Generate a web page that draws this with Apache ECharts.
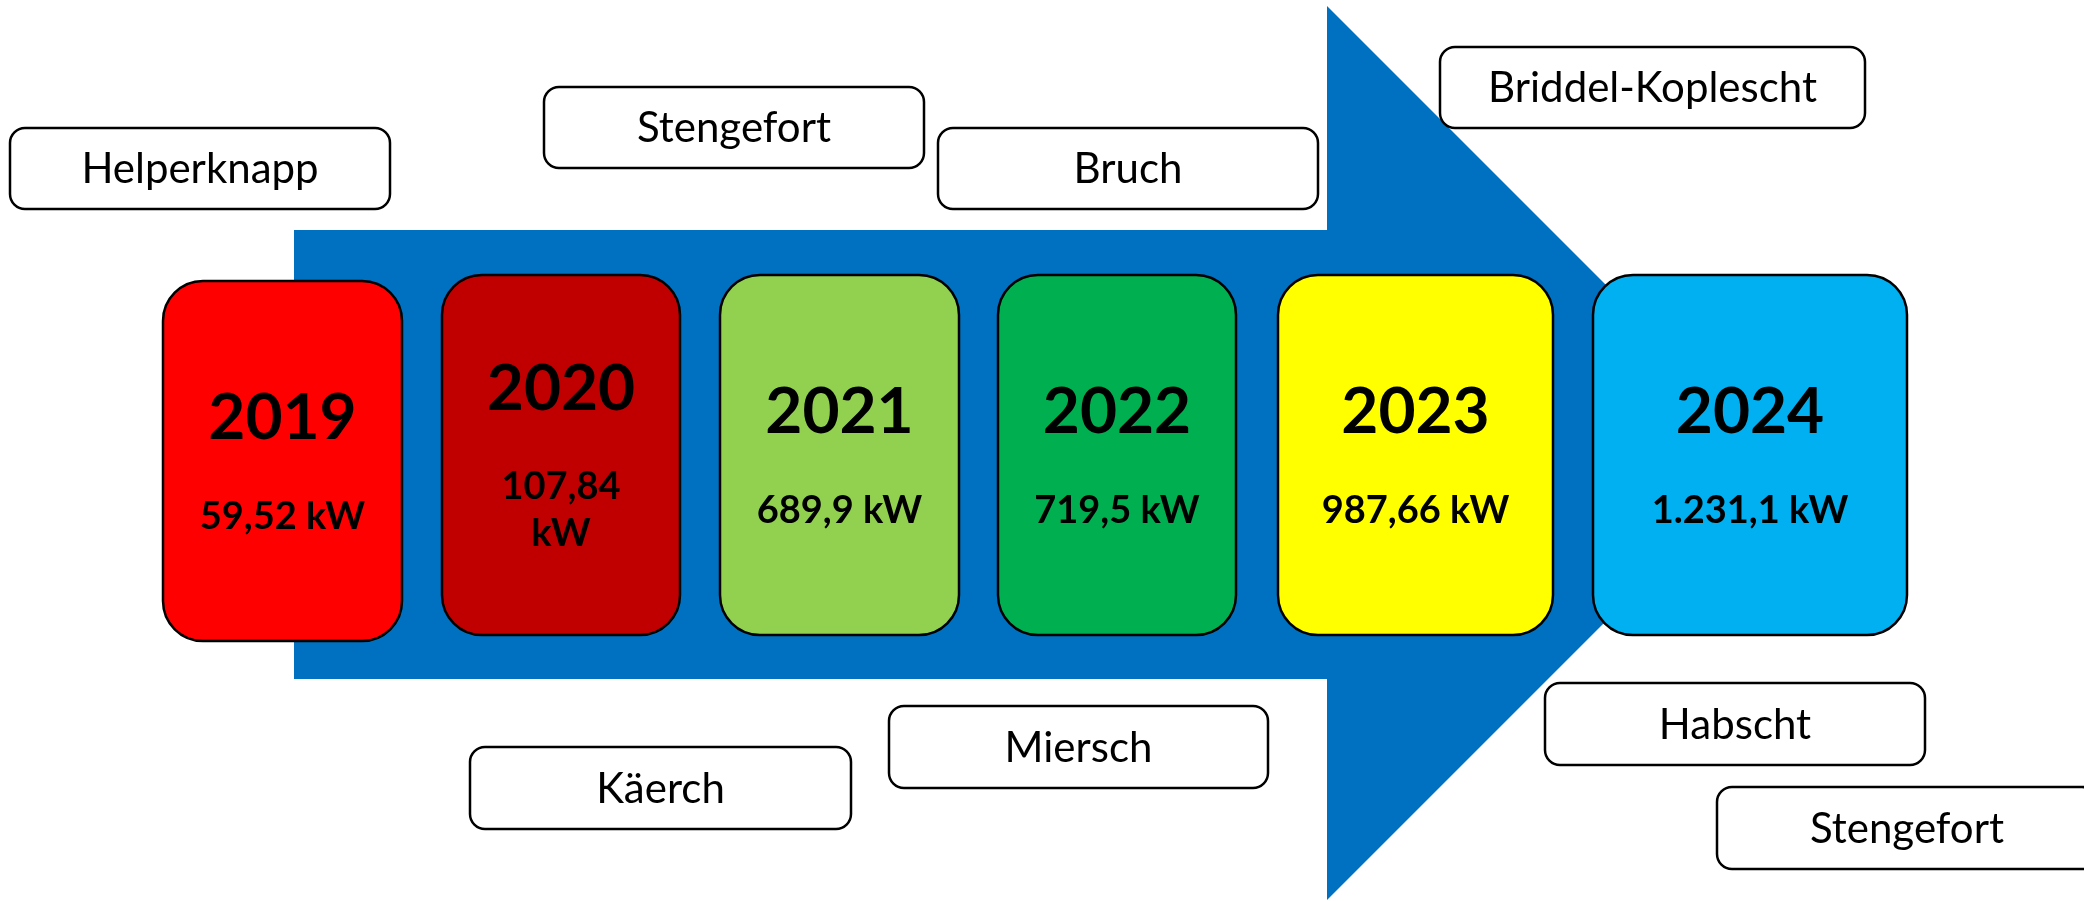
<!DOCTYPE html>
<html>
<head>
<meta charset="utf-8">
<style>
  html, body { margin: 0; padding: 0; background: #ffffff; }
  #main { width: 2084px; height: 901px; }
</style>
<script src="https://cdn.jsdelivr.net/npm/echarts@6/dist/echarts.min.js"></script>
</head>
<body>
<div id="main"></div>
<script>
// values
const years = ['2019', '2020', '2021', '2022', '2023', '2024'];
const capacityKW = [59.52, 107.84, 689.9, 719.5, 987.66, 1231.1];
const sites = ['Helperknapp', 'Stengefort', 'Bruch', 'Briddel-Koplescht', 'Käerch', 'Miersch', 'Habscht', 'Stengefort'];

// colours
const cardColors = ['#ff0000', '#c00000', '#92d050', '#00b050', '#ffff00', '#00b0f0'];
const arrowColor = '#0070c0';

// layout in axis units (x 0..2084, y 0..901 from the top)
const cardBoxes = [
  [163, 281, 402, 641],
  [442, 275, 680, 635],
  [720, 275, 959, 635],
  [998, 275, 1236, 635],
  [1278, 275, 1553, 635],
  [1593, 275, 1907, 635]
];
const siteBoxes = [
  [10, 128, 390, 209],
  [544, 87, 924, 168],
  [938, 128, 1318, 209],
  [1440, 47, 1865, 128],
  [470, 747, 851, 829],
  [889, 706, 1268, 788],
  [1545, 683, 1925, 765],
  [1717, 787, 2097, 869]
];
const arrowOutline = [[294, 230], [1327, 230], [1327, 6], [1774, 453], [1327, 900], [1327, 679], [294, 679]];

const valueFont = 'bold 38px Lato';

function formatKW(v) {
  let parts = String(v).split('.');
  let intPart = parts[0].replace(/\B(?=(\d{3})+(?!\d))/g, '.');
  return intPart + (parts[1] ? ',' + parts[1] : '') + ' kW';
}

// measure once so the value can wrap like in the original text box
const measureCtx = document.createElement('canvas').getContext('2d');
function wrapValue(text, maxWidth) {
  measureCtx.font = valueFont;
  if (measureCtx.measureText(text).width <= maxWidth) return [text];
  return text.split(' ');
}

function boxRect(api, b) {
  let p0 = api.coord([b[0], b[1]]);
  let p1 = api.coord([b[2], b[3]]);
  return { x: p0[0], y: p0[1], width: p1[0] - p0[0], height: p1[1] - p0[1] };
}

let chart = echarts.init(document.getElementById('main'));

let option = {
  animation: false,
  backgroundColor: '#ffffff',
  grid: { left: 0, right: 0, top: 0, bottom: 0 },
  xAxis: { type: 'value', min: 0, max: 2084, show: false },
  yAxis: { type: 'value', min: 0, max: 901, inverse: true, show: false },
  series: [
    {
      type: 'custom',
      z: 1,
      data: [[0, 0]],
      renderItem: function (params, api) {
        return {
          type: 'polygon',
          shape: { points: arrowOutline.map(function (p) { return api.coord(p); }) },
          style: { fill: arrowColor }
        };
      }
    },
    {
      type: 'custom',
      z: 2,
      data: years.map(function (y, i) { return { name: y, value: [i, capacityKW[i]] }; }),
      renderItem: function (params, api) {
        let i = api.value(0);
        let r = boxRect(api, cardBoxes[i]);
        let lines = wrapValue(formatKW(api.value(1)), r.width - 60);
        let text = '{y|' + years[i] + '}';
        lines.forEach(function (l) { text += '\n{v|' + l + '}'; });
        return {
          type: 'group',
          children: [
            {
              type: 'rect',
              shape: { x: r.x, y: r.y, width: r.width, height: r.height, r: 40 },
              style: { fill: cardColors[i], stroke: '#000000', lineWidth: 2.5 }
            },
            {
              type: 'text',
              x: r.x + r.width / 2,
              y: r.y + r.height / 2 - 19,
              style: {
                text: text,
                align: 'center',
                verticalAlign: 'middle',
                rich: {
                  y: { fontFamily: 'Lato', fontWeight: 'bold', fontSize: 64, lineHeight: 149, fill: '#000000', align: 'center' },
                  v: { fontFamily: 'Lato', fontWeight: 'bold', fontSize: 38, lineHeight: 47, fill: '#000000', align: 'center' }
                }
              }
            }
          ]
        };
      }
    },
    {
      type: 'custom',
      z: 3,
      data: sites.map(function (s, i) { return { name: s, value: [i, 0] }; }),
      renderItem: function (params, api) {
        let i = api.value(0);
        let r = boxRect(api, siteBoxes[i]);
        return {
          type: 'group',
          children: [
            {
              type: 'rect',
              shape: { x: r.x, y: r.y, width: r.width, height: r.height, r: 15 },
              style: { fill: '#ffffff', stroke: '#000000', lineWidth: 2.5 }
            },
            {
              type: 'text',
              x: r.x + r.width / 2,
              y: r.y + r.height / 2 + 1,
              style: {
                text: sites[i],
                align: 'center',
                verticalAlign: 'middle',
                fontFamily: 'Lato',
                fontSize: 42,
                fill: '#000000'
              }
            }
          ]
        };
      }
    }
  ]
};

chart.setOption(option);
</script>
</body>
</html>
